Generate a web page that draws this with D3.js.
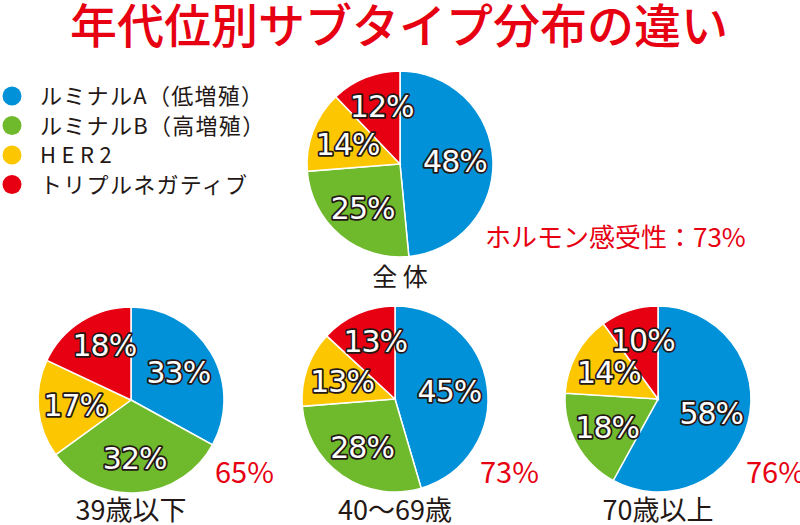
<!DOCTYPE html>
<html>
<head>
<meta charset="utf-8">
<script src="https://cdn.jsdelivr.net/npm/d3@7"></script>
<style>
  body { margin: 0; background: #fff; }
  svg text { font-family: "Noto Sans CJK JP", "Noto Sans", sans-serif; }
  svg text.pct { font-family: "DejaVu Sans", sans-serif; }
</style>
</head>
<body>
<div id="chart"></div>
<script>
// data
var categories = ["ルミナルA（低増殖）", "ルミナルB（高増殖）", "HER2", "トリプルネガティブ"];
var colors = ["#0091d8", "#6fb92c", "#fcc600", "#e60012"];
var pieNames = ["全 体", "39歳以下", "40〜69歳", "70歳以上"];
var overall = [48, 25, 14, 12];
var under39 = [33, 32, 17, 18];
var age40to69 = [45, 28, 13, 13];
var over70 = [58, 18, 14, 10];
var hormoneLabels = ["ホルモン感受性：73%", "65%", "73%", "76%"];

var w = 800;
var h = 525;
var r = 93;

var svg = d3.select("#chart")
            .append("svg")
            .attr("width", w)
            .attr("height", h);

// title
svg.append("text")
   .attr("x", 399)
   .attr("y", 43)
   .attr("text-anchor", "middle")
   .attr("font-size", 47)
   .attr("font-weight", 500)
   .attr("fill", "#e60012")
   .text("年代位別サブタイプ分布の違い");

// legend
var legend = svg.selectAll("g.legend")
   .data(categories)
   .enter()
   .append("g")
   .attr("class", "legend")
   .attr("transform", function(d, i) { return "translate(12," + (96 + i * 29.5) + ")"; });

legend.append("circle")
   .attr("r", 9.5)
   .attr("fill", function(d, i) { return colors[i]; });

legend.append("text")
   .attr("x", 28)
   .attr("y", 8)
   .attr("font-size", 22)
   .attr("fill", "#231815")
   .attr("letter-spacing", function(d) { return d == "HER2" ? 5.5 : 1.3; })
   .text(function(d) { return d; });

// pies
var pies = [
  { values: overall,   cx: 400, cy: 164, nameY: 286, hx: 485, hy: 247, hs: 26 },
  { values: under39,   cx: 131, cy: 400, nameY: 520, hx: 215, hy: 483, hs: 29 },
  { values: age40to69, cx: 395, cy: 399, nameY: 520, hx: 480, hy: 483, hs: 29 },
  { values: over70,    cx: 658, cy: 399, nameY: 520, hx: 746, hy: 483, hs: 29 }
];

var pie = d3.pie().sort(null).value(function(d) { return d; });
var arc = d3.arc().innerRadius(0).outerRadius(r);

// label radius per category, the last (top) slice sits a bit higher
var labelR = [55, 58, 56, 61];

function labelPos(d, i) {
  var f = i == 3 ? 0.6 : 0.5;
  var a = d.startAngle + f * (d.endAngle - d.startAngle);
  return [Math.sin(a) * labelR[i], -Math.cos(a) * labelR[i]];
}

pies.forEach(function(p, k) {
  var g = svg.append("g")
             .attr("transform", "translate(" + p.cx + "," + p.cy + ")");

  var slices = pie(p.values);

  g.selectAll("path")
   .data(slices)
   .enter()
   .append("path")
   .attr("d", arc)
   .attr("fill", function(d, i) { return colors[i]; })
   .attr("stroke", "#fff")
   .attr("stroke-width", 1.5);

  g.selectAll("text.pct")
   .data(slices)
   .enter()
   .append("text")
   .attr("class", "pct")
   .attr("transform", function(d, i) {
      var c = labelPos(d, i);
      return "translate(" + c[0] + "," + (c[1] + 11) + ")";
   })
   .attr("text-anchor", "middle")
   .attr("font-size", 30)
   .attr("letter-spacing", -1)
   .attr("fill", "#fff")
   .attr("stroke", "#231815")
   .attr("stroke-width", 3.5)
   .attr("stroke-linejoin", "round")
   .attr("paint-order", "stroke")
   .text(function(d) { return d.data + "%"; });

  svg.append("text")
     .attr("x", p.cx)
     .attr("y", p.nameY)
     .attr("text-anchor", "middle")
     .attr("font-size", k == 0 ? 25 : 27)
     .attr("fill", "#231815")
     .text(pieNames[k]);

  svg.append("text")
     .attr("x", p.hx)
     .attr("y", p.hy)
     .attr("font-size", p.hs)
     .attr("fill", "#e60012")
     .text(hormoneLabels[k]);
});
</script>
</body>
</html>
